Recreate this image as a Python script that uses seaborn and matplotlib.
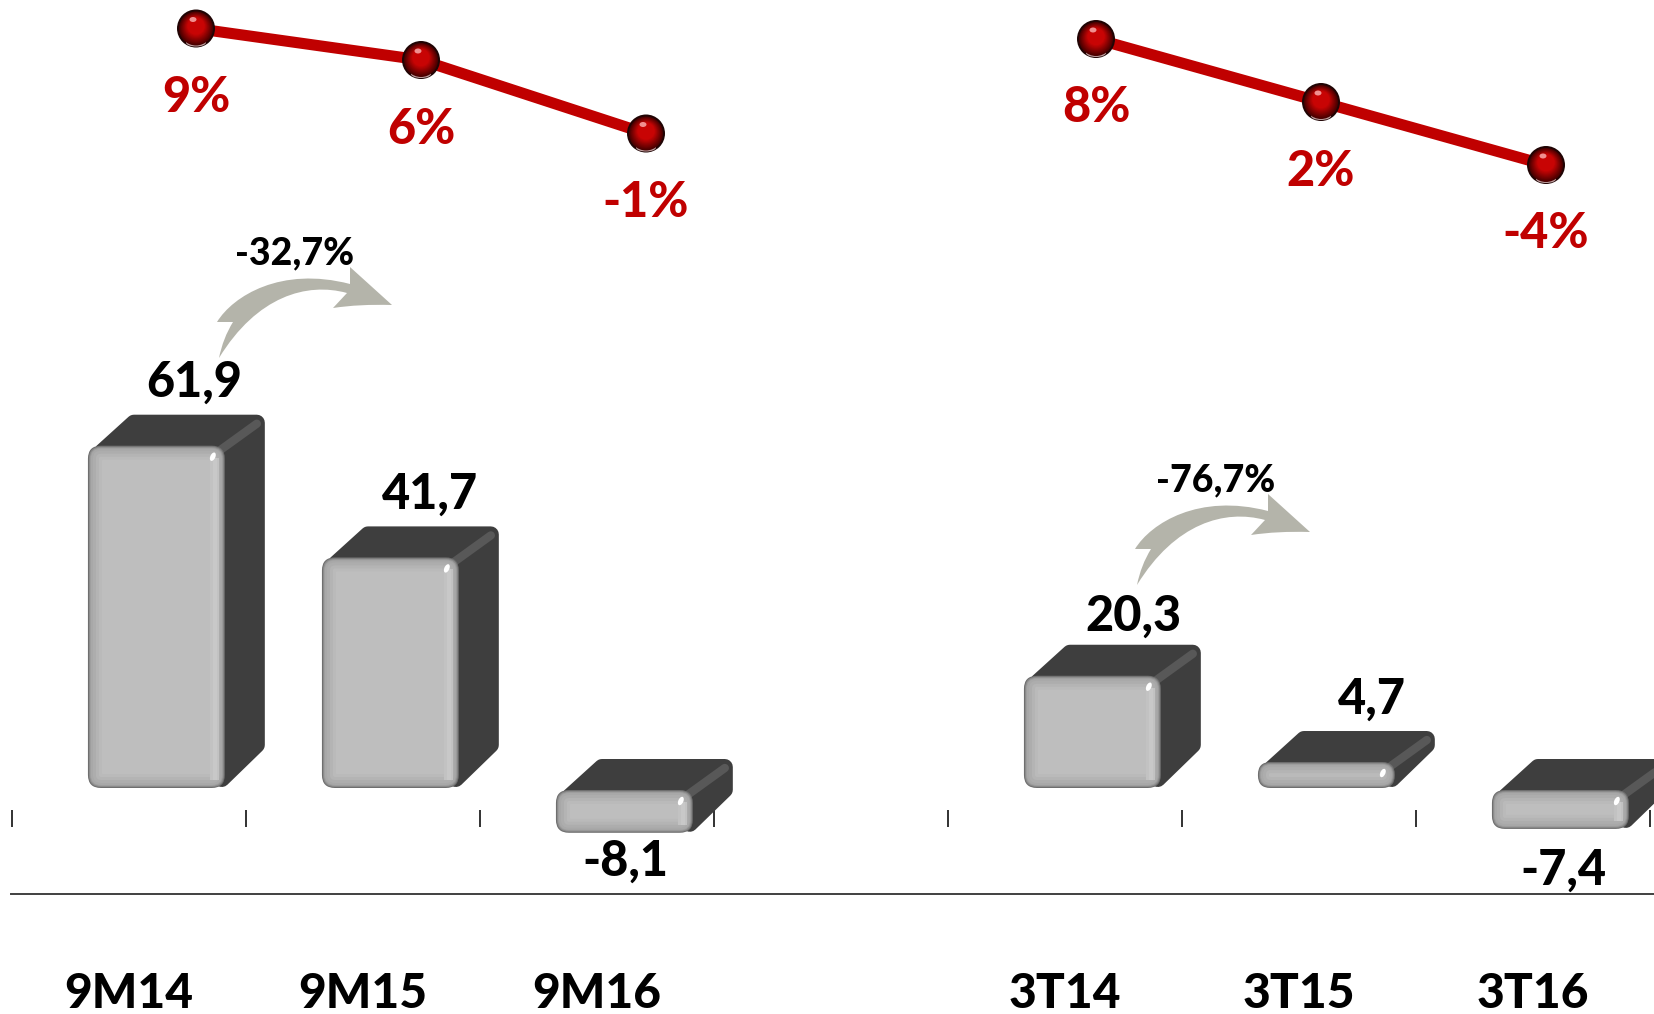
import numpy as np
import matplotlib
matplotlib.use("Agg")
import matplotlib.pyplot as plt
import seaborn as sns
from matplotlib.patches import FancyBboxPatch, Polygon, Ellipse, PathPatch, Rectangle
from matplotlib.path import Path
from matplotlib.transforms import IdentityTransform

categories = ["9M14", "9M15", "9M16", " ", "3T14", "3T15", "3T16"]
bar_values = [61.9, 41.7, -8.1, np.nan, 20.3, 4.7, -7.4]
bar_labels = ["61,9", "41,7", "-8,1", None, "20,3", "4,7", "-7,4"]

line_cats_a = ["9M14", "9M15", "9M16"]
line_vals_a = [9, 6, -1]
line_labels_a = ["9%", "6%", "-1%"]
line_cats_b = ["3T14", "3T15", "3T16"]
line_vals_b = [8, 2, -4]
line_labels_b = ["8%", "2%", "-4%"]

change_labels = ["-32,7%", "-76,7%"]

W, H = 1654, 1014
WEIGHT = 900
sns.set_theme(style="white")
plt.rcParams["font.family"] = ["Lato", "DejaVu Sans"]

fig = plt.figure(figsize=(W / 100, H / 100), dpi=100)
ID = IdentityTransform()


def axes_px(left, right, top, bottom):
    return fig.add_axes([left / W, 1 - bottom / H, (right - left) / W, (bottom - top) / H])


# main axes: baseline of the bars at px 788, 5.53 px per unit
ax = axes_px(11, 1654, 0, 894)
ax.patch.set_alpha(0)
sns.barplot(x=categories, y=bar_values, order=categories, width=0.585, color="#BEBEBE",
            saturation=1, ax=ax, zorder=2)
ax.set_xlim((11 - 129) / 234, (1654 - 129) / 234)
ax.set_ylim((788 - 894) / 5.53, 788 / 5.53)
ax.set_yticks([])
ax.set_ylabel("")
ax.set_xlabel("")
sns.despine(ax=ax, left=True, top=True, right=True)
ax.spines["bottom"].set_color("#404040")
ax.spines["bottom"].set_linewidth(1.4)
ax.tick_params(axis="x", length=0, pad=56, labelsize=34.5, labelcolor="black")
for t in ax.get_xticklabels():
    t.set_fontweight(WEIGHT)

# small category-boundary ticks above the rule
sec = ax.secondary_xaxis((894 - 827) / 894)
sec.set_xticks(np.arange(len(categories) + 1) - 0.5, labels=[""] * (len(categories) + 1))
sec.tick_params(direction="in", length=12.2, width=1.3, color="#222222", bottom=True)
for s in sec.spines.values():
    s.set_visible(False)

BAR_SHIFT = 0.117
label_nudge = [(0, 0), (2, 0), (0, 2), (3, -3), (8, 0), (2, -11)]
values_drawn = [(v, l) for v, l in zip(bar_values, bar_labels) if l is not None]
for bar, (val, lab), (ndx, ndy) in zip(ax.patches, values_drawn, label_nudge):
    bar.set_x(bar.get_x() + BAR_SHIFT)
    bar.set_visible(False)
    (l, y0), (r, y1) = ax.transData.transform(
        [(bar.get_x(), bar.get_y()), (bar.get_x() + bar.get_width(), bar.get_y() + bar.get_height())])
    b, t = min(y0, y1), max(y0, y1)
    if val < 0:  # sits just below the baseline, as in the source
        t -= 2
    dx, dy = 40, 31
    # depth silhouette with rounded corners
    rnd = 8
    poly = [(l + 14, t - rnd + 2), (l + 46, t + dy - rnd), (r + dx - rnd, t + dy - rnd),
            (r + dx - rnd, b + dy + 12), (r - 3, b + 9), (r - 6, t - 6)]
    ax.add_patch(Polygon(poly, closed=True, facecolor="#3E3E3E", edgecolor="#3E3E3E",
                         lw=2 * rnd * 0.72, joinstyle="round", transform=ID, zorder=3, clip_on=False))
    ax.plot([r - 4, r + dx - 8], [t - 4, t + dy - 9], color="#585858", lw=6, transform=ID,
            zorder=3.1, clip_on=False, solid_capstyle="round")
    # bevelled front face
    layers = [(0, "#6E6E6E"), (1, "#8A8A8A"), (2, "#9E9E9E"), (3, "#A8A8A8"), (5, "#ADADAD"),
              (8, "#B4B4B4"), (11, "#BABABA"), (14, "#BEBEBE")]
    h = t - b
    for j, (ins, col) in enumerate(layers):
        hh = h - 2 * ins
        if hh < 2:
            continue
        rad = max(min(13 - ins, hh / 2 - 0.5), 1)
        ax.add_patch(FancyBboxPatch((l + ins, b + ins), r - l - 2 * ins, hh,
                                    boxstyle=f"round,pad=0,rounding_size={rad}", facecolor=col,
                                    edgecolor="none", transform=ID, zorder=3.2 + j * 0.01,
                                    mutation_aspect=1, clip_on=False))
    if h > 35:
        for inset, wid, col in [(15, 9, "#C2C2C2"), (12, 4, "#C8C8C8")]:
            ax.add_patch(Rectangle((r - inset, b + 8), wid, h - 20, facecolor=col, edgecolor="none",
                                   transform=ID, zorder=3.3, clip_on=False))
    ax.add_patch(Ellipse((r - 12, t - 11), 5, 9, angle=-25, facecolor="white", edgecolor="none",
                         transform=ID, zorder=3.4, clip_on=False))
    # value label
    if val >= 0:
        lx, ly = (l + r) / 2 + 38, t + dy + 32
    else:
        lx, ly = (l + r) / 2 + 1, b - 30
    ax.text(lx + ndx, ly + ndy, lab, transform=ID, ha="center", va="center", fontsize=35,
            fontweight=WEIGHT, color="black", zorder=6, clip_on=False)


def red_line(cats, vals, labels, left):
    a = axes_px(left, left + 675, 0, 893)
    a.patch.set_alpha(0)
    sns.lineplot(x=cats, y=vals, sort=False, color="#C00000", linewidth=8, errorbar=None,
                 ax=a, zorder=2)
    a.set_xlim(-0.5, 2.5)
    a.set_ylim((123 - 893) / 10.5, 123 / 10.5)
    a.axis("off")
    pts = a.transData.transform(a.lines[0].get_xydata())
    for (px, py), lab in zip(pts, labels):
        N = 16
        a.add_patch(Ellipse((px, py), 38, 38, facecolor="#200404", edgecolor="none",
                            transform=ID, zorder=3, clip_on=False))
        a.add_patch(Ellipse((px, py - 14), 20, 8, facecolor="#BFA0A0", edgecolor="none",
                            transform=ID, zorder=3.05, clip_on=False))
        c0 = np.array(matplotlib.colors.to_rgb("#4A0000"))
        c1 = np.array(matplotlib.colors.to_rgb("#C80404"))
        for k in range(N):
            f = k / (N - 1)
            rad = 17.0 * (1 - f) + 3 * f
            a.add_patch(Ellipse((px, py + 4 * f), 2 * rad, 2 * rad,
                                facecolor=c0 + (c1 - c0) * min(f * 1.7, 1), edgecolor="none",
                                transform=ID, zorder=3.1 + k * 0.01, clip_on=False))
        a.add_patch(Ellipse((px - 3, py + 9), 7, 5, facecolor="#F09090", edgecolor="none",
                            transform=ID, zorder=3.4, clip_on=False))
        a.text(px, py - 69, lab, transform=ID, ha="center", va="center", fontsize=35,
               fontweight=WEIGHT, color="#C00000", zorder=5, clip_on=False)
    return a


red_line(line_cats_a, line_vals_a, line_labels_a, 83.5)
red_line(line_cats_b, line_vals_b, line_labels_b, 983.5)

# curved grey change arrows (shape in pixels, anchored at the tail)
shape = [
    (Path.MOVETO, (0, 0)),
    (Path.CURVE3, (4, -20)), (Path.CURVE3, (14, -36)),
    (Path.LINETO, (14, -36)),
    (Path.LINETO, (-2, -36)),
    (Path.CURVE4, (14, -62)), (Path.CURVE4, (62, -92)), (Path.CURVE4, (131, -74)),
    (Path.LINETO, (131, -91)),
    (Path.LINETO, (173, -53)),
    (Path.CURVE3, (140, -54)), (Path.CURVE3, (114, -50)),
    (Path.LINETO, (128, -65)),
    (Path.CURVE4, (88, -76)), (Path.CURVE4, (38, -62)), (Path.CURVE4, (0, 0)),
]
codes = [c for c, _ in shape]
verts = np.array([v for _, v in shape], dtype=float)
tails = [(219, 358), (1137, 585)]
label_xy = [(295, 253), (1216, 480)]
for (tx, ty), (lx, ly), lab in zip(tails, label_xy, change_labels):
    pts = np.column_stack([verts[:, 0] + tx, H - (verts[:, 1] + ty)])
    ax.add_patch(PathPatch(Path(pts, codes), facecolor="#B4B4AA", edgecolor="none", transform=ID,
                           zorder=4, clip_on=False))
    ax.text(lx, H - ly, lab, transform=ID, ha="center", va="center", fontsize=27,
            fontweight=WEIGHT, color="black", zorder=6, clip_on=False)

fig.savefig("out.png", dpi=100)
